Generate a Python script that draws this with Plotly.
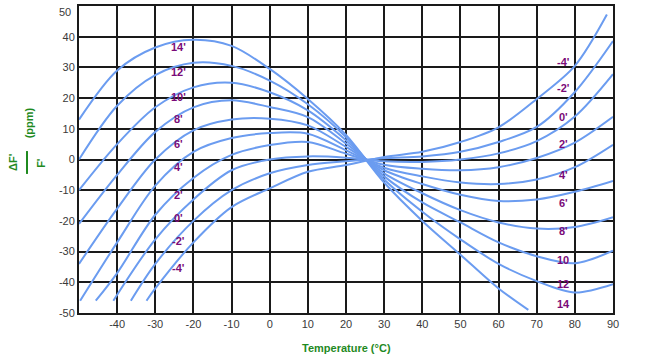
import plotly.graph_objects as go

# Cut-angle deviation curves (ppm vs temperature in °C)
angles = ["14'", "12'", "10'", "8'", "6'", "4'", "2'", "0'", "-2'", "-4'"]

x_full = [-50, -40, -30, -20, -10, 0, 10, 20, 30, 40, 50, 60, 70, 80, 90]

x_14 = [-50, -40, -30, -20, -10, 0, 10, 20, 30, 40, 50, 60, 67.8]
y_14 = [13, 29, 36.5, 39, 37, 29.5, 19.7, 8, -7.5, -20, -31, -42, -49]

x_12 = x_full
y_12 = [0, 17.5, 27.5, 31.5, 30.5, 25.7, 18, 7.3, -6.5, -17, -26, -34, -39.6, -43.3, -40.6]

x_10 = x_full
y_10 = [-10, 5, 17, 23.5, 25, 21.9, 16, 6.3, -5.5, -14, -20.5, -27, -31.5, -33.8, -29.7]

x_8 = x_full
y_8 = [-21, -5, 9, 17, 19.3, 17.1, 13.8, 5.2, -4.5, -11, -16.5, -20.5, -22.5, -22, -18.8]

x_6 = x_full
y_6 = [-34, -16, 0, 9.5, 13, 13.3, 11.1, 4.1, -3.5, -8, -11.5, -13.5, -13, -10.5, -7]

x_4 = [-49.7, -40, -30, -20, -10, 0, 10, 20, 30, 40, 50, 60, 70, 80, 90]
y_4 = [-46, -27, -8.5, 2.5, 7, 8.6, 8.4, 3, -2.7, -5.5, -7.5, -8, -6.5, -2.5, 4.8]

x_2 = [-45.6, -40, -30, -20, -10, 0, 10, 20, 30, 40, 50, 60, 70, 80, 90]
y_2 = [-46, -37, -18, -6, 1.5, 4.7, 5.7, 1.9, -1.7, -3, -3.5, -2.5, 0.5, 5.5, 13.9]

x_0 = [-41, -30, -20, -10, 0, 10, 20, 30, 40, 50, 60, 70, 80, 90]
y_0 = [-46, -26, -13, -3.5, 0, 1, 0.6, -0.6, -0.8, 0, 2, 6, 14, 27.8]

x_m2 = [-36.4, -30, -20, -10, 0, 10, 20, 30, 40, 50, 60, 70, 80, 90]
y_m2 = [-46, -34, -20, -10, -4.5, -1.8, -0.6, 0.4, 1, 2.5, 5.7, 10.6, 22, 38.6]

x_m4 = [-32.3, -30, -20, -10, 0, 10, 20, 30, 40, 50, 60, 70, 80, 88.4]
y_m4 = [-46, -42, -27, -15.5, -9.4, -4, -1.8, 0.8, 2.5, 5.7, 10.5, 19.7, 30.5, 47.2]

# Curve labels
left_labels = ["14'", "12'", "10'", "8'", "6'", "4'", "2'", "0'", "-2'", "-4'"]
left_label_x = -24
left_label_y = [36.5, 28.4, 20.3, 13.3, 5.2, -2.4, -11.5, -19.1, -26.6, -35.3]

right_labels = ["-4'", "-2'", "0'", "2'", "4'", "6'", "8'", "10", "12", "14"]
right_label_x = 77
right_label_y = [31.8, 23.2, 13.8, 5.2, -5, -14.2, -23.4, -32.6, -40.7, -47.1]

x_ticks = [-40, -30, -20, -10, 0, 10, 20, 30, 40, 50, 60, 70, 80, 90]
x_tick_text = ["-40", "-30", "-20", "-10", "0", "10", "20", "30", "40", "50", "60", "70", "80", "90"]
y_ticks = [40, 30, 20, 10, 0, -10, -20, -30, -40, -50]
y_tick_text = ["40", "30", "20", "10", "0", "-10", "-20", "-30", "-40", "-50"]
y_top_tick = 50
y_top_text = "50"

curves = [(x_14, y_14), (x_12, y_12), (x_10, y_10), (x_8, y_8), (x_6, y_6),
          (x_4, y_4), (x_2, y_2), (x_0, y_0), (x_m2, y_m2), (x_m4, y_m4)]

CURVE = "#6b9cf0"
PURPLE = "#7a0a78"
GREEN = "#1f8a1f"
TICK = "#3a3a3a"
FONT = "Liberation Sans, Arial, sans-serif"

fig = go.Figure()
for name, (xs, ys) in zip(angles, curves):
    fig.add_trace(go.Scatter(x=xs, y=ys, mode="lines", name=name,
                             line=dict(color=CURVE, width=2, shape="spline", smoothing=0.9),
                             showlegend=False, hoverinfo="skip"))

for t, yv in zip(left_labels, left_label_y):
    fig.add_annotation(x=left_label_x, y=yv, text=f"<b>{t}</b>", showarrow=False,
                       font=dict(family=FONT, size=11, color=PURPLE))
for t, yv in zip(right_labels, right_label_y):
    fig.add_annotation(x=right_label_x, y=yv, text=f"<b>{t}</b>", showarrow=False,
                       font=dict(family=FONT, size=11, color=PURPLE))

# top y tick label (kept inside the page like the reference)
fig.add_annotation(xref="paper", yref="y", x=0, y=y_top_tick, xanchor="right", yanchor="top",
                   xshift=-6, yshift=2, text=y_top_text, showarrow=False,
                   font=dict(family=FONT, size=11, color=TICK))

# Axis titles
fig.add_annotation(xref="paper", yref="paper", x=0.5, y=-0.113, yanchor="middle",
                   text="<b>Temperature (°C)</b>", showarrow=False,
                   font=dict(family=FONT, size=11, color=GREEN))
fig.add_annotation(xref="paper", yref="paper", x=-0.1236, y=0.492, textangle=-90,
                   xanchor="center", yanchor="middle",
                   text="<b>ΔF'</b>", showarrow=False,
                   font=dict(family=FONT, size=11, color=GREEN))
fig.add_annotation(xref="paper", yref="paper", x=-0.0712, y=0.489, textangle=-90,
                   xanchor="center", yanchor="middle",
                   text="<b>F'</b>", showarrow=False,
                   font=dict(family=FONT, size=11, color=GREEN))
fig.add_annotation(xref="paper", yref="paper", x=-0.0936, y=0.618, textangle=-90,
                   xanchor="center", yanchor="middle",
                   text="<b>(ppm)</b>", showarrow=False,
                   font=dict(family=FONT, size=11, color=GREEN))
fig.add_shape(type="line", xref="paper", yref="paper", x0=-0.0974, x1=-0.0974,
              y0=0.453, y1=0.5275, line=dict(color=GREEN, width=2))

axis_common = dict(showgrid=True, gridcolor="#1a1a1a", gridwidth=2,
                   zeroline=False, showline=True, linecolor="#1a1a1a", linewidth=2,
                   mirror=True, ticks="", tickfont=dict(family=FONT, size=11, color=TICK))

fig.update_xaxes(range=[-50, 90], tickvals=x_ticks, ticktext=x_tick_text, **axis_common)
fig.update_yaxes(range=[-50, 50], tickvals=y_ticks + [y_top_tick], ticktext=y_tick_text + [""],
                 **axis_common)

fig.update_layout(width=649, height=359, margin=dict(l=79, r=36, t=4, b=46),
                  plot_bgcolor="white", paper_bgcolor="white", showlegend=False)

fig.write_html("out.html", config={"displayModeBar": False},
               post_script="document.body.style.margin='0';")
